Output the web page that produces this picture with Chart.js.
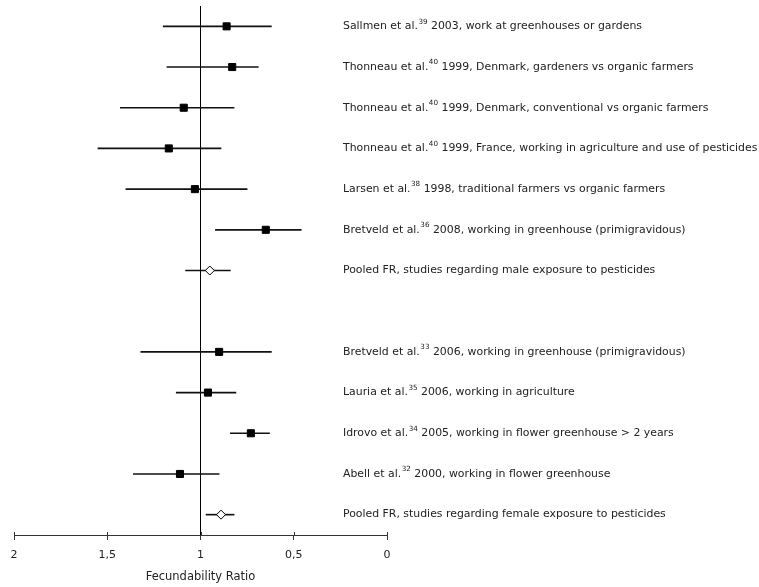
<!DOCTYPE html>
<html><head><meta charset="utf-8">
<script src="https://cdn.jsdelivr.net/npm/chart.js@4.4.1/dist/chart.umd.min.js"></script>
<style>html,body{margin:0;padding:0;background:#fff;overflow:hidden}canvas{display:block}</style>
</head><body><canvas id="c" width="759" height="587"></canvas>
<script>
// Rows from top to bottom ('' = spacer row)
const studyNames = [
  'Sallmen et al.', 'Thonneau et al.', 'Thonneau et al.', 'Thonneau et al.', 'Larsen et al.', 'Bretveld et al.',
  'Pooled FR, studies regarding male exposure to pesticides',
  '',
  'Bretveld et al.', 'Lauria et al.', 'Idrovo et al.', 'Abell et al.',
  'Pooled FR, studies regarding female exposure to pesticides'
];
const refNumbers = ['39', '40', '40', '40', '38', '36', '', '', '33', '35', '34', '32', ''];
const studyDetails = [
  ' 2003, work at greenhouses or gardens',
  ' 1999, Denmark, gardeners vs organic farmers',
  ' 1999, Denmark, conventional vs organic farmers',
  ' 1999, France, working in agriculture and use of pesticides',
  ' 1998, traditional farmers vs organic farmers',
  ' 2008, working in greenhouse (primigravidous)',
  '', '',
  ' 2006, working in greenhouse (primigravidous)',
  ' 2006, working in agriculture',
  ' 2005, working in flower greenhouse > 2 years',
  ' 2000, working in flower greenhouse',
  ''
];
const isPooled = [false, false, false, false, false, false, true, false, false, false, false, false, true];
const fecundabilityRatio = [0.86, 0.83, 1.09, 1.17, 1.03, 0.65, 0.95, null, 0.90, 0.96, 0.73, 1.11, 0.89];
const lowerCI = [0.62, 0.69, 0.82, 0.89, 0.75, 0.46, 0.84, null, 0.62, 0.81, 0.63, 0.90, 0.82];
const upperCI = [1.20, 1.18, 1.43, 1.55, 1.40, 0.92, 1.08, null, 1.32, 1.13, 0.84, 1.36, 0.97];
const xTickValues = [0, 0.5, 1, 1.5, 2];
const xTitle = 'Fecundability Ratio';

const FONT = '"DejaVu Sans", sans-serif';
Chart.defaults.font.family = FONT;
Chart.defaults.font.size = 11;
Chart.defaults.color = '#222';

const studyPts = [], pooledPts = [], ciBars = [];
fecundabilityRatio.forEach((v, i) => {
  if (v === null) return;
  (isPooled[i] ? pooledPts : studyPts).push({x: v, y: i});
  ciBars.push({x: [lowerCI[i], upperCI[i]], y: i});
});

const labelPlugin = {
  id: 'rowLabels',
  afterDatasetsDraw(chart) {
    const {ctx} = chart;
    const y = chart.scales.y;
    const x = chart.scales.x;
    const labelX = 343;
    ctx.save();
    // tick marks crossing the axis line (upper part)
    ctx.strokeStyle = '#333';
    ctx.lineWidth = 1;
    x.ticks.forEach(t => {
      const px = Math.round(x.getPixelForValue(t.value)) + 0.5;
      ctx.beginPath();
      ctx.moveTo(px, x.top - 3);
      ctx.lineTo(px, x.top);
      ctx.stroke();
    });
    ctx.fillStyle = '#222';
    ctx.textBaseline = 'middle';
    ctx.textAlign = 'left';
    studyNames.forEach((name, i) => {
      if (!name) return;
      const yy = y.getPixelForValue(i);
      let xx = labelX;
      ctx.font = '10.9px ' + FONT;
      ctx.fillText(name, xx, yy);
      xx += ctx.measureText(name).width;
      if (refNumbers[i]) {
        ctx.font = '7.2px ' + FONT;
        ctx.fillText(refNumbers[i], xx + 0.5, yy - 4.5);
        xx += ctx.measureText(refNumbers[i]).width + 0.5;
      }
      if (studyDetails[i]) {
        ctx.font = '10.9px ' + FONT;
        ctx.fillText(studyDetails[i], xx, yy);
      }
    });
    ctx.restore();
  }
};

new Chart(document.getElementById('c'), {
  type: 'scatter',
  data: {
    datasets: [
      {data: studyPts, pointStyle: 'rect', pointRadius: 5, pointBorderWidth: 1,
       backgroundColor: '#000', borderColor: '#000'},
      {data: pooledPts, pointStyle: 'rectRot', pointRadius: 4.5, pointBorderWidth: 1,
       backgroundColor: '#fff', borderColor: '#000'},
      {type: 'bar', indexAxis: 'y', data: ciBars, barThickness: 1,
       backgroundColor: '#111', borderWidth: 0}
    ]
  },
  options: {
    responsive: false,
    animation: false,
    events: [],
    layout: {padding: {left: 14, right: 372, top: 4.6, bottom: 3}},
    plugins: {legend: {display: false}, tooltip: {enabled: false}},
    scales: {
      x: {
        type: 'linear', reverse: true, min: 0, max: 2, offset: false,
        afterBuildTicks: (s) => { s.ticks = xTickValues.map(v => ({value: v})); },
        ticks: {padding: 9, color: '#222', font: {size: 11},
          callback: (v) => String(v).replace('.', ',')},
        grid: {
          color: (c) => (c.tick && c.tick.value === 1) ? '#000' : 'rgba(0,0,0,0)',
          lineWidth: 1, tickLength: 5, tickColor: '#333', drawTicks: true, offset: false
        },
        border: {display: true, color: '#333', width: 1},
        title: {display: true, text: xTitle, color: '#222', font: {size: 11.5}, padding: {top: -1, bottom: 0}}
      },
      y: {
        type: 'linear', reverse: true, min: -0.5, max: 12.5, display: false, offset: false,
        grid: {offset: false}
      }
    }
  },
  plugins: [labelPlugin]
});
</script>
</body></html>
